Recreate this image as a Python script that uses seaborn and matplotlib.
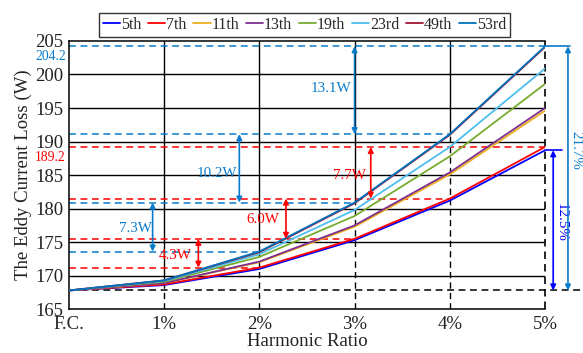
import numpy as np
import pandas as pd
import matplotlib
matplotlib.use('Agg')
import matplotlib.pyplot as plt
import seaborn as sns
from matplotlib.lines import Line2D
from matplotlib.transforms import blended_transform_factory

# harmonic ratio categories and eddy current loss (W) per harmonic order
ratios = ['F.C.', '1%', '2%', '3%', '4%', '5%']
orders = ['5th', '7th', '11th', '13th', '19th', '23rd', '49th', '53rd']
loss_5th = [167.8, 168.6, 171.0, 175.3, 181.2, 188.7]
loss_7th = [167.8, 168.7, 171.2, 175.5, 181.5, 189.2]
loss_11th = [167.8, 168.9, 172.0, 177.3, 185.1, 194.6]
loss_13th = [167.8, 168.9, 172.1, 177.5, 185.4, 195.0]
loss_19th = [167.8, 169.1, 172.8, 178.9, 187.8, 198.6]
loss_23rd = [167.8, 169.2, 173.2, 179.8, 189.2, 200.9]
loss_49th = [167.8, 169.3, 173.5, 180.8, 191.0, 204.1]
loss_53rd = [167.8, 169.3, 173.6, 180.9, 191.1, 204.2]
series = [loss_5th, loss_7th, loss_11th, loss_13th, loss_19th, loss_23rd, loss_49th, loss_53rd]

colors = ['#0000FF', '#FF0000', '#EDB120', '#7E2F8E', '#77AC30', '#4DBEEE', '#A2142F', '#0072BD']
c_blue = '#0A7BCB'
c_red = '#FF0000'
c_pure = '#0000FF'

# increments annotated on the chart
inc_53 = ['7.3W', '10.2W', '13.1W']
inc_7 = ['4.3W', '6.0W', '7.7W']
pct_53 = '21.7%'
pct_5 = '12.5%'

sns.set_style('white')
plt.rcParams['font.family'] = ['Liberation Serif', 'DejaVu Serif']

rows = []
for name, vals in zip(orders, series):
    for i, v in enumerate(vals):
        rows.append({'x': i, 'loss': v, 'order': name})
df = pd.DataFrame(rows)

fig = plt.figure(figsize=(5.83, 3.53), dpi=100)
ax = fig.add_axes([0.118, 0.124, 0.817, 0.76])

ax.set_xlim(0, 5)
ax.set_ylim(165, 205)
ax.set_yticks(np.arange(165, 206, 5))
ax.set_xticks(range(len(ratios)))
ax.set_xticklabels(ratios)

# horizontal grid
for yv in np.arange(170, 205, 5):
    ax.axhline(yv, color='k', lw=1, zorder=1)

dash = (0, (4.5, 3))
base = loss_53rd[0]
# vertical lines: solid above the top curve, dashed below it
for i in range(1, 5):
    ax.plot([i, i], [loss_53rd[i], 205], color='k', lw=1, zorder=1)
    ax.plot([i, i], [165, loss_53rd[i]], color='k', lw=1, ls=dash, zorder=1)
ax.plot([5, 5], [165, 205], color='k', lw=1.2, ls=dash, zorder=1, clip_on=False)
ax.plot([0, 5.4], [base, base], color='k', lw=1.1, ls=dash, zorder=1, clip_on=False)

# reference dashed lines for 53rd and 7th
for i in range(2, 6):
    ax.plot([0, i], [loss_53rd[i], loss_53rd[i]], color=c_blue, lw=1.1, ls=dash, zorder=2)
    ax.plot([0, i], [loss_7th[i], loss_7th[i]], color=c_red, lw=1.1, ls=dash, zorder=2)

sns.lineplot(data=df, x='x', y='loss', hue='order', hue_order=orders, palette=colors,
             lw=1.3, ax=ax, legend=False, zorder=3)


def varrow(x, y0, y1, color):
    ax.annotate('', xy=(x, y1), xytext=(x, y0),
                arrowprops=dict(arrowstyle='<|-|>', color=color, lw=1.2,
                                shrinkA=0, shrinkB=0, mutation_scale=8),
                annotation_clip=False, zorder=4)


fs = 10.8
varrow(0.88, loss_53rd[2], loss_53rd[3], c_blue)
ax.text(0.7, 177.0, inc_53[0], color=c_blue, fontsize=fs, ha='center', va='center')
varrow(1.79, loss_53rd[3], loss_53rd[4], c_blue)
ax.text(1.55, 185.3, inc_53[1], color=c_blue, fontsize=fs, ha='center', va='center')
varrow(3.0, loss_53rd[4], loss_53rd[5], c_blue)
ax.text(2.75, 197.9, inc_53[2], color=c_blue, fontsize=fs, ha='center', va='center')

varrow(1.36, loss_7th[2], loss_7th[3], c_red)
ax.text(1.12, 173.0, inc_7[0], color=c_red, fontsize=fs, ha='center', va='center')
varrow(2.28, loss_7th[3], loss_7th[4], c_red)
ax.text(2.04, 178.4, inc_7[1], color=c_red, fontsize=fs, ha='center', va='center')
varrow(3.17, loss_7th[4], loss_7th[5], c_red)
ax.text(2.95, 185.0, inc_7[2], color=c_red, fontsize=fs, ha='center', va='center')

# right-side percentage arrows
ax.plot([5, 5.26], [loss_53rd[5], loss_53rd[5]], color=c_blue, lw=1.2, clip_on=False)
varrow(5.24, base, loss_53rd[5], c_blue)
ax.text(5.255, 188.7, pct_53, color=c_blue, fontsize=fs, rotation=-90, ha='left', va='center')
ax.plot([5, 5.18], [loss_5th[5], loss_5th[5]], color=c_pure, lw=1.2, clip_on=False)
varrow(5.085, base, loss_5th[5], c_pure)
ax.text(5.095, 178.0, pct_5, color=c_pure, fontsize=fs, rotation=-90, ha='left', va='center')

# highlighted values on the y axis
trans = blended_transform_factory(ax.transAxes, ax.transData)
ax.text(-0.006, loss_53rd[5] - 0.55, '204.2', color=c_blue, fontsize=9.8, ha='right', va='top',
        transform=trans)
ax.text(-0.006, loss_7th[5] - 0.55, '189.2', color=c_red, fontsize=9.8, ha='right', va='top',
        transform=trans)

for side in ['left', 'bottom', 'top']:
    ax.spines[side].set_color('k')
    ax.spines[side].set_linewidth(1.1)
ax.spines['right'].set_visible(False)

ax.tick_params(axis='x', length=0, pad=5, labelsize=13.5, colors='#222222')
ax.tick_params(axis='y', length=3, direction='in', pad=4, labelsize=13.5, colors='#222222')
ax.set_xlabel('Harmonic Ratio', fontsize=13.5, color='#222222', labelpad=0)
ax.set_ylabel('The Eddy Current Loss (W)', fontsize=13.5, color='#222222', labelpad=2)

handles = [Line2D([0], [0], color=c, lw=1.3) for c in colors]
leg = ax.legend(handles, orders, loc='lower center', bbox_to_anchor=(0.495, 1.015), ncol=8,
                fontsize=11.5, frameon=True, fancybox=False, edgecolor='k',
                handlelength=1.1, handletextpad=0.05, columnspacing=0.4,
                borderpad=0.25, borderaxespad=0)
leg.get_frame().set_linewidth(1.0)

fig.savefig('out.png', dpi=100)
